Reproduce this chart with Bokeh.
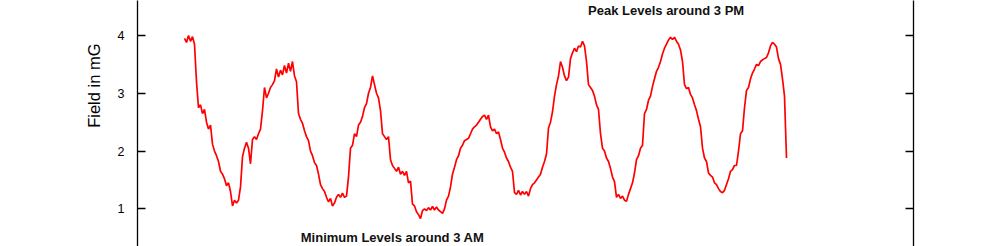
from bokeh.plotting import figure
from bokeh.models import LinearAxis, Range1d, Label, FixedTicker, Title
from bokeh.embed import file_html
from bokeh.resources import INLINE

# Magnetic field readings (mG), one reading every half hour
field_mg = [
    3.95, 3.88, 4.00, 3.90, 3.98, 3.85, 3.20, 2.75, 2.80, 2.65,
    2.72, 2.50, 2.38, 2.45, 2.12, 2.00, 1.92, 1.82, 1.65, 1.60,
    1.52, 1.40, 1.45, 1.30, 1.05, 1.15, 1.10, 1.15, 1.38, 1.90,
    2.05, 2.15, 2.05, 1.78, 2.20, 2.25, 2.20, 2.30, 2.38, 2.70,
    3.10, 2.92, 3.00, 3.10, 3.15, 3.22, 3.42, 3.28, 3.40, 3.32,
    3.48, 3.35, 3.52, 3.38, 3.55, 3.30, 3.20, 2.65, 2.55, 2.48,
    2.35, 2.25, 2.18, 2.00, 1.92, 1.80, 1.75, 1.60, 1.42, 1.35,
    1.30, 1.20, 1.12, 1.18, 1.05, 1.10, 1.20, 1.25, 1.20, 1.27,
    1.20, 1.22, 1.55, 2.05, 2.10, 2.30, 2.25, 2.45, 2.50, 2.60,
    2.75, 2.82, 3.00, 3.10, 3.30, 3.15, 3.00, 2.92, 2.70, 2.30,
    2.25, 2.20, 2.25, 1.85, 1.75, 1.70, 1.65, 1.72, 1.60, 1.65,
    1.58, 1.65, 1.45, 1.48, 1.08, 1.05, 0.95, 0.90, 0.83, 0.97,
    1.00, 0.97, 1.02, 0.98, 1.04, 0.98, 1.03, 0.98, 0.95, 0.92,
    1.00, 1.15, 1.22, 1.38, 1.60, 1.72, 1.85, 1.92, 2.05, 2.10,
    2.18, 2.20, 2.22, 2.30, 2.38, 2.42, 2.45, 2.50, 2.55, 2.60,
    2.62, 2.55, 2.62, 2.42, 2.35, 2.38, 2.30, 2.33, 2.20, 2.05,
    1.98, 1.88, 1.82, 1.72, 1.65, 1.28, 1.25, 1.32, 1.24, 1.30,
    1.25, 1.30, 1.22, 1.35, 1.42, 1.45, 1.50, 1.55, 1.60, 1.72,
    1.82, 1.95, 2.40, 2.50, 2.68, 2.95, 3.15, 3.30, 3.55, 3.45,
    3.30, 3.22, 3.28, 3.60, 3.70, 3.78, 3.72, 3.82, 3.80, 3.90,
    3.82, 3.55, 3.15, 3.10, 3.05, 2.95, 2.80, 2.72, 2.30, 2.05,
    2.00, 1.88, 1.82, 1.70, 1.55, 1.47, 1.20, 1.25, 1.18, 1.22,
    1.15, 1.13, 1.25, 1.35, 1.45, 1.62, 1.85, 1.92, 2.05, 2.10,
    2.65, 2.72, 2.88, 2.95, 3.12, 3.25, 3.38, 3.45, 3.55, 3.68,
    3.78, 3.85, 3.92, 3.97, 3.93, 3.97, 3.90, 3.85, 3.75, 3.55,
    3.15, 3.08, 3.10, 2.98, 2.92, 2.80, 2.70, 2.55, 2.42, 2.05,
    1.88, 1.82, 1.62, 1.58, 1.55, 1.45, 1.42, 1.35, 1.30, 1.28,
    1.32, 1.42, 1.52, 1.65, 1.68, 1.75, 1.75, 2.00, 2.30, 2.35,
    2.75, 3.05, 3.10, 3.25, 3.35, 3.42, 3.50, 3.48, 3.55, 3.58,
    3.60, 3.62, 3.70, 3.82, 3.88, 3.85, 3.80, 3.60, 3.50, 3.25,
    2.95, 1.88,
]
hours = [0.5 * i for i in range(len(field_mg))]

y_ticks = [1, 2, 3, 4]
y_label = "Field in mG"
peak_note = "Peak Levels around 3 PM"
peak_note_pos = (120.4, 4.43)
min_note = "Minimum Levels around 3 AM"
min_note_pos = (52.0, 0.50)

p = figure(
    width=1000, height=246,
    x_range=Range1d(-11.75, 182.25),
    y_range=Range1d(0.348, 4.606),
    output_backend="svg", toolbar_location=None,
    x_axis_location=None, y_axis_location=None,
    min_border_left=137, min_border_right=87,
    min_border_top=0, min_border_bottom=0,
    background_fill_color="white", border_fill_color="white",
)
p.outline_line_color = None
p.xgrid.visible = False
p.ygrid.visible = False

def make_axis(show_labels):
    ax = LinearAxis(ticker=FixedTicker(ticks=y_ticks))
    ax.major_tick_in = 8
    ax.major_tick_out = 0
    ax.minor_tick_line_color = None
    ax.axis_line_color = "black"
    ax.axis_line_width = 1.3
    ax.major_tick_line_color = "black"
    ax.major_tick_line_width = 1.3
    ax.major_label_text_font = "Liberation Sans"
    ax.major_label_text_font_size = "12.5px"
    ax.major_label_text_color = "black" if show_labels else None
    ax.major_label_standoff = 13
    return ax

p.add_layout(make_axis(True), "left")
p.add_layout(make_axis(False), "right")

p.add_layout(Title(text=y_label, align="right", offset=43, standoff=23,
                   text_font="Liberation Sans", text_font_size="16.5px",
                   text_font_style="normal", text_color="black"), "left")

p.line(hours, field_mg, line_color="#ff0000", line_width=1.7)

p.add_layout(Label(x=peak_note_pos[0], y=peak_note_pos[1], text=peak_note,
                   text_align="center", text_baseline="middle",
                   text_font="Liberation Sans", text_font_size="13px",
                   text_font_style="bold", text_color="#111111"))
p.add_layout(Label(x=min_note_pos[0], y=min_note_pos[1], text=min_note,
                   text_align="center", text_baseline="middle",
                   text_font="Liberation Sans", text_font_size="13px",
                   text_font_style="bold", text_color="#111111"))

open("out.html", "w").write(file_html(p, INLINE))
